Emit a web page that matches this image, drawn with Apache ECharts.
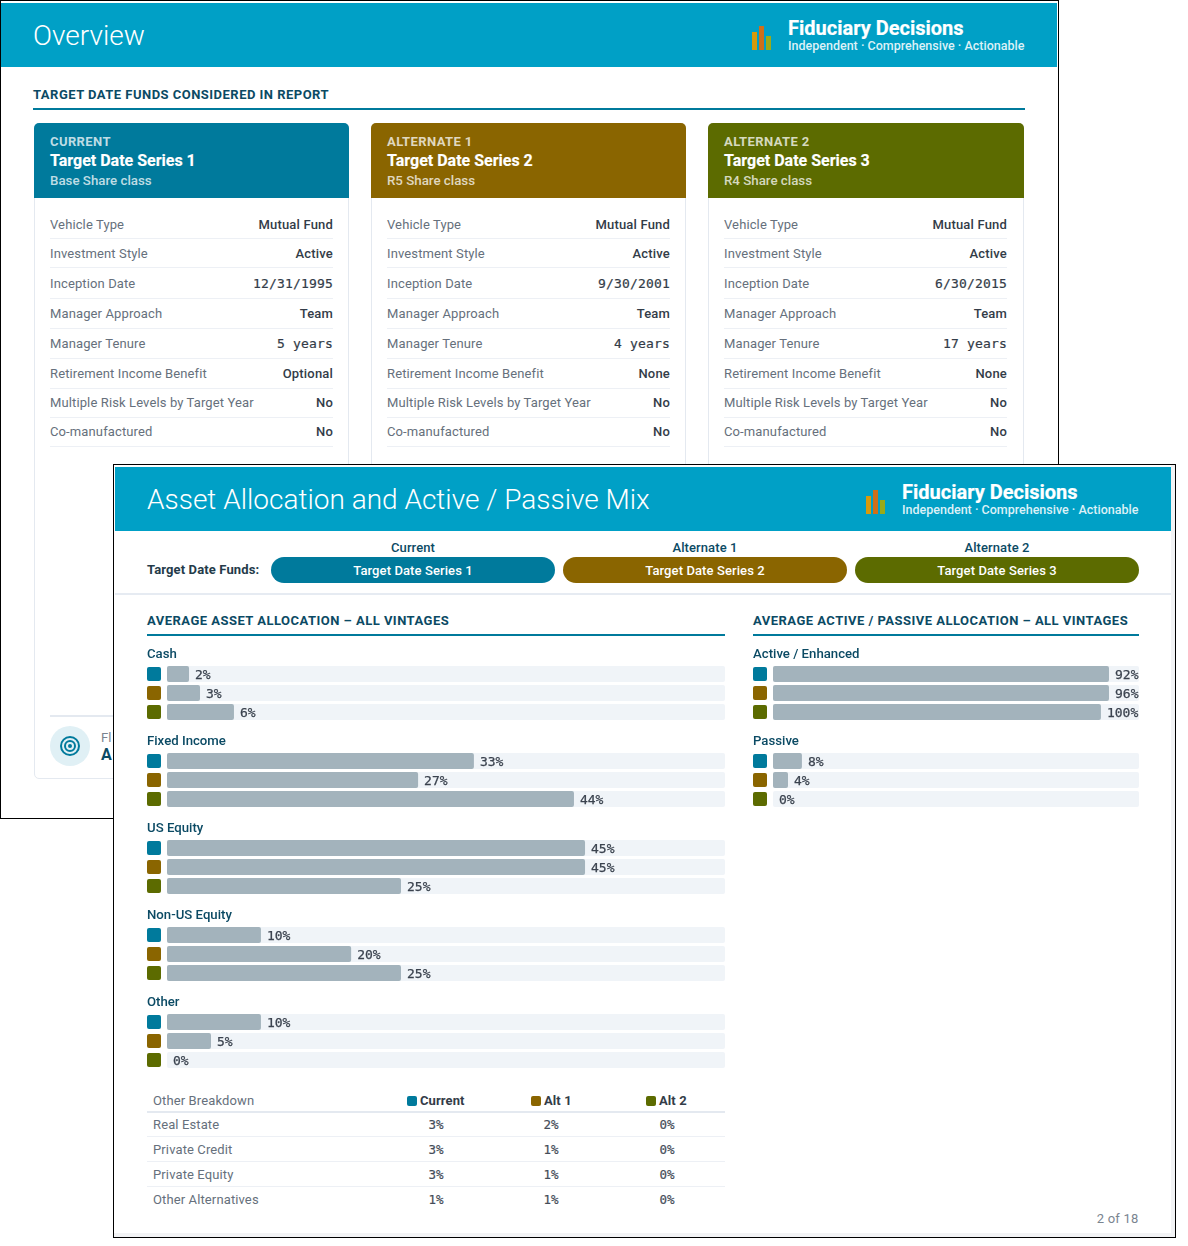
<!DOCTYPE html>
<html><head><meta charset="utf-8">
<script src="https://cdn.jsdelivr.net/npm/echarts@6/dist/echarts.min.js"></script>
<style>
html,body{margin:0;padding:0;background:#fff;width:1188px;height:1246px;overflow:hidden;font-family:Roboto,sans-serif;color:#3a4450}
*{box-sizing:border-box}
.abs,.frame,.t{position:absolute}
.t{white-space:nowrap;line-height:16px}
.frame{background:#fff;border:1px solid #000}
.head{position:absolute;background:#00a0c6}
.title{color:#fff;font-weight:300}
.brand{color:#fff;font-weight:700;font-size:20px;line-height:24px;-webkit-text-stroke:.2px #fff}
.tag{color:#dcf1f7;font-weight:500;font-size:12.5px}
.sec{font-weight:700;font-size:13px;letter-spacing:.48px;color:#0b4a64}
.rule{position:absolute;height:2px;background:#007a9c}
.card{position:absolute;top:123px;height:656px;border:1px solid #e4e9f0;border-radius:5px;background:#fff}
.chead{position:absolute;left:-1px;top:-1px;height:75px;border-radius:5px 5px 0 0}
.mono{font-family:"DejaVu Sans Mono",monospace;font-size:13px;letter-spacing:.15px;-webkit-text-stroke:.2px currentColor}
.k{color:#66707c;font-size:13px;letter-spacing:.12px}.v{color:#333c48;font-size:13px;font-weight:500;text-align:right;letter-spacing:.18px}
.line{position:absolute;height:1px;background:#edf0f5}
.pill{position:absolute;top:557px;height:26px;width:284px;border-radius:13px;color:#fff;font-weight:500;font-size:13px;line-height:27px;text-align:center;letter-spacing:.1px}
.plab{position:absolute;top:540px;width:284px;text-align:center;font-size:13px;font-weight:500;color:#0b4a64;line-height:16px;letter-spacing:.1px}
.sw{position:absolute;width:10px;height:10px;border-radius:2px}
#chart{position:absolute;left:0;top:0;width:1188px;height:1246px}
</style></head><body>
<div id="page"></div>
<div id="chart"></div>
<script>
// ---- funds ----
const fundRoles = ['CURRENT','ALTERNATE 1','ALTERNATE 2'];
const pillRoles = ['Current','Alternate 1','Alternate 2'];
const fundNames = ['Target Date Series 1','Target Date Series 2','Target Date Series 3'];
const shareClasses = ['Base Share class','R5 Share class','R4 Share class'];
const fundColors = ['#007a9c','#8a6500','#5c6b00'];
const attrNames = ['Vehicle Type','Investment Style','Inception Date','Manager Approach','Manager Tenure','Retirement Income Benefit','Multiple Risk Levels by Target Year','Co-manufactured'];
const attrFund1 = ['Mutual Fund','Active','12/31/1995','Team','5 years','Optional','No','No'];
const attrFund2 = ['Mutual Fund','Active','9/30/2001','Team','4 years','None','No','No'];
const attrFund3 = ['Mutual Fund','Active','6/30/2015','Team','17 years','None','No','No'];
const monoAttrs = ['Inception Date','Manager Tenure'];

// ---- allocation bars: lengths as drawn, labels as printed ----
const assetNames = ['Cash','Fixed Income','US Equity','Non-US Equity','Other'];
const cashBars = [2.37,3.55,7.2],        cashLabels = ['2%','3%','6%'];
const fixedBars = [33,27,43.76],         fixedLabels = ['33%','27%','44%'];
const usBars = [44.95,44.95,25.16],      usLabels = ['45%','45%','25%'];
const nonUsBars = [10.1,19.8,25.16],     nonUsLabels = ['10%','20%','25%'];
const otherBars = [10.1,4.73,0],         otherLabels = ['10%','5%','0%'];
const styleNames = ['Active / Enhanced','Passive'];
const activeBars = [91.8,91.8,89.6],     activeLabels = ['92%','96%','100%'];
const passiveBars = [7.9,4.1,0],         passiveLabels = ['8%','4%','0%'];

// ---- other breakdown ----
const breakdownRows = ['Real Estate','Private Credit','Private Equity','Other Alternatives'];
const breakdownCols = ['Current','Alt 1','Alt 2'];
const breakdownCurrent = ['3%','3%','3%','1%'];
const breakdownAlt1 = ['2%','1%','1%','1%'];
const breakdownAlt2 = ['0%','0%','0%','0%'];

// ---- static page ----
const attrs = [attrFund1,attrFund2,attrFund3];
const rowY = [225,254,284,314,344,374,403,432];
const lineY = [238,267,298,328,358,388,417,446];
const cardX = [34,371,708];
const cardW = [315,315,316];
let h = '';
const text = (x,cy,s,cls,style='') => `<div class="t ${cls}" style="left:${x}px;top:${cy-8}px;${style}">${s}</div>`;
const textR = (r,cy,s,cls,style='') => `<div class="t ${cls}" style="right:${1188-r}px;top:${cy-8}px;${style}">${s}</div>`;
const logo = (dx,dy) => [[0,6,18,'#d79a0c'],[7,0,24,'#cf6f1a'],[14,10,14,'#9aaa1a']].map(b=>`<div class="abs" style="left:${752+dx+b[0]}px;top:${26+dy+b[1]}px;width:5px;height:${b[2]}px;background:${b[3]}"></div>`).join('')
  + `<div class="t brand" style="left:${788+dx}px;top:${16+dy}px">Fiduciary Decisions</div>`
  + text(788+dx,46+dy,'Independent · Comprehensive · Actionable','tag');

// frame 1
h += `<div class="frame" style="left:0;top:0;width:1059px;height:819px"></div>`;
h += `<div class="head" style="left:1px;top:3px;width:1056px;height:64px"></div>`;
h += text(33,35,'Overview','title','font-size:28px;line-height:32px;top:20px');
h += logo(0,0);
h += text(33,95,'TARGET DATE FUNDS CONSIDERED IN REPORT','sec');
h += `<div class="rule" style="left:33px;top:108px;width:992px"></div>`;
cardX.forEach((x,i)=>{
  h += `<div class="card" style="left:${x}px;width:${cardW[i]}px"><div class="chead" style="width:${cardW[i]}px;background:${fundColors[i]}"></div></div>`;
  h += text(x+16,142,fundRoles[i],'','color:rgba(255,255,255,.75);font-weight:700;font-size:13px;letter-spacing:.4px');
  h += text(x+16,161,fundNames[i],'','color:#fff;font-weight:700;font-size:16px;-webkit-text-stroke:.15px #fff');
  h += text(x+16,181,shareClasses[i],'','color:rgba(255,255,255,.75);font-weight:500;font-size:13.3px');
  attrNames.forEach((n,j)=>{
    h += text(x+16,rowY[j],n,'k');
    const mono = monoAttrs.includes(n);
    h += textR(x+299,rowY[j],attrs[i][j],mono?'v mono':'v',mono?'font-weight:400;':'');
    h += `<div class="line" style="left:${x+16}px;top:${lineY[j]}px;width:283px"></div>`;
  });
});
h += `<div class="line" style="left:50px;top:715px;width:70px;height:2px;background:#e4e9f0"></div>`;
h += `<div class="abs" style="left:50px;top:726px;width:40px;height:40px;border-radius:50%;background:#e0f0f5"></div>`;
h += `<div class="abs" style="left:60px;top:736px;width:20px;height:20px;border-radius:50%;border:2px solid #007a9c"></div>`;
h += `<div class="abs" style="left:64px;top:740px;width:12px;height:12px;border-radius:50%;border:2px solid #007a9c"></div>`;
h += `<div class="abs" style="left:68px;top:744px;width:4px;height:4px;border-radius:50%;background:#007a9c"></div>`;
h += text(101,738,'Fl','','color:#7a8490;font-size:13px');
h += text(101,755,'A','','color:#0b4a64;font-size:16px;font-weight:700');

// frame 2
h += `<div class="frame" style="left:113px;top:464px;width:1063px;height:774px"></div>`;
h += `<div class="abs" style="left:1171px;top:465px;width:4px;height:772px;background:#f2f3f5"></div>`;
h += `<div class="abs" style="left:114px;top:1233px;width:1061px;height:4px;background:#f2f3f5"></div>`;
h += `<div class="head" style="left:115px;top:467px;width:1056px;height:64px"></div>`;
h += text(147,499,'Asset Allocation and Active / Passive Mix','title','font-size:28px;line-height:36px;top:482px');
h += logo(114,464);
h += text(147,570,'Target Date Funds:','','font-size:13px;font-weight:700;color:#243b4a;letter-spacing:.12px');
[271,563,855].forEach((x,i)=>{
  h += `<div class="plab" style="left:${x}px">${pillRoles[i]}</div>`;
  h += `<div class="pill" style="left:${x}px;background:${fundColors[i]}">${fundNames[i]}</div>`;
});
h += `<div class="abs" style="left:115px;top:593px;width:1056px;height:2px;background:#e6ebf2"></div>`;
h += text(147,621,'AVERAGE ASSET ALLOCATION – ALL VINTAGES','sec');
h += `<div class="rule" style="left:147px;top:634px;width:578px"></div>`;
h += text(753,621,'AVERAGE ACTIVE / PASSIVE ALLOCATION – ALL VINTAGES','sec');
h += `<div class="rule" style="left:753px;top:634px;width:386px"></div>`;

// breakdown table
const tblCols = [436,551,667];
const hdrSw = [407,531,646];
h += text(153,1101,'Other Breakdown','k');
breakdownCols.forEach((c,i)=>{
  h += `<div class="sw" style="left:${hdrSw[i]}px;top:1096px;background:${fundColors[i]}"></div>`;
  h += text(hdrSw[i]+13,1101,c,'','font-size:13px;font-weight:700;color:#333c48;letter-spacing:.1px');
});
h += `<div class="line" style="left:147px;top:1111px;width:578px;height:2px;background:#e4e9f0"></div>`;
const bdY = [1125,1150,1175,1200];
const bdVals = [breakdownCurrent,breakdownAlt1,breakdownAlt2];
breakdownRows.forEach((r,j)=>{
  h += text(153,bdY[j],r,'k');
  bdVals.forEach((col,i)=>{ h += `<div class="t mono" style="left:${tblCols[i]-30}px;width:60px;text-align:center;top:${bdY[j]-8}px;color:#444c58;font-size:12.5px;letter-spacing:0">${col[j]}</div>`; });
  if(j<3) h += `<div class="line" style="left:147px;top:${bdY[j]+11}px;width:578px"></div>`;
});
h += textR(1138.5,1219,'2 of 18','','font-size:13px;color:#7a8490;letter-spacing:.2px');
document.getElementById('page').innerHTML = h;

// ---- chart ----
const groups = [
  {name:assetNames[0],bars:cashBars,labels:cashLabels,x:147,w:558,max:60,top:664.5},
  {name:assetNames[1],bars:fixedBars,labels:fixedLabels,x:147,w:558,max:60,top:751.5},
  {name:assetNames[2],bars:usBars,labels:usLabels,x:147,w:558,max:60,top:838.5},
  {name:assetNames[3],bars:nonUsBars,labels:nonUsLabels,x:147,w:558,max:60,top:925.5},
  {name:assetNames[4],bars:otherBars,labels:otherLabels,x:147,w:558,max:60,top:1012.5},
  {name:styleNames[0],bars:activeBars,labels:activeLabels,x:753,w:366,max:100,top:664.5},
  {name:styleNames[1],bars:passiveBars,labels:passiveLabels,x:753,w:366,max:100,top:751.5}
];
const graphic = [];
groups.forEach(g=>{
  fundColors.forEach((c,i)=>{
    graphic.push({type:'rect',shape:{x:g.x,y:g.top+2.5+19*i,width:14,height:14,r:2},style:{fill:c},silent:true});
  });
});
const chart = echarts.init(document.getElementById('chart'),null,{renderer:'canvas',width:1188,height:1246});
chart.setOption({
  animation:false,
  backgroundColor:'transparent',
  title:groups.map(g=>({text:g.name,left:g.x,top:g.top-17.5,padding:0,textStyle:{fontFamily:'Roboto',fontSize:13.2,fontWeight:500,color:'#0b4a64',lineHeight:16}})),
  grid:groups.map(g=>({left:g.x+20,top:g.top,width:g.w,height:57,containLabel:false})),
  xAxis:groups.map((g,i)=>({type:'value',gridIndex:i,min:0,max:g.max,show:false})),
  yAxis:groups.map((g,i)=>({type:'category',gridIndex:i,inverse:true,show:false,data:pillRoles})),
  series:groups.map((g,i)=>({
    type:'bar',name:g.name,xAxisIndex:i,yAxisIndex:i,barWidth:16,data:g.bars,
    itemStyle:{color:'#a3b3bc',borderRadius:2},
    showBackground:true,backgroundStyle:{color:'#f0f4f8',borderRadius:2},
    label:{show:true,position:'right',distance:6,offset:[0,1.5],fontFamily:'DejaVu Sans Mono',fontSize:13,color:'#3a424e',
      textBorderColor:'#3a424e',textBorderWidth:0.25,
      formatter:p=>g.labels[p.dataIndex]}
  })),
  graphic:graphic
});
</script>
</body></html>
